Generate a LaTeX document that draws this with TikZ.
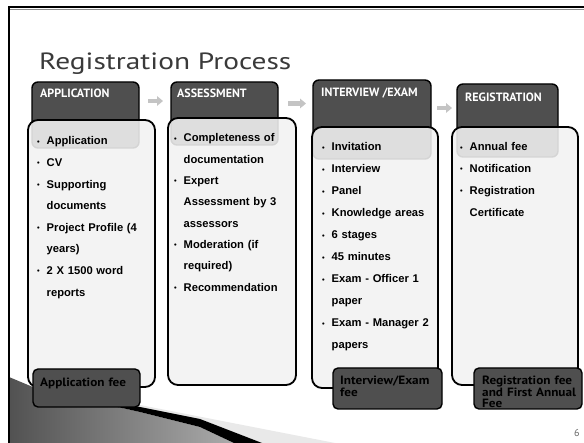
\documentclass[tikz,border=0pt]{standalone}
\usepackage{fontspec}
\setmainfont{Liberation Sans}
\newfontfamily\gillfont{PT Sans}
\newfontfamily\gillwide[FakeStretch=1.1]{PT Sans}
\newfontfamily\gilltitle[FakeStretch=1.25]{PT Sans}
\usetikzlibrary{arrows.meta}
\definecolor{hdrgray}{HTML}{4F4F4F}
\definecolor{bodygray}{HTML}{F2F2F2}
\definecolor{arrgray}{HTML}{C4C4C4}
\definecolor{titlegray}{HTML}{3A3A3A}
\definecolor{lightband}{HTML}{E9E9E9}
\newcommand{\bitem}[1]{\hangindent=9.5pt\hangafter=1\makebox[9.5pt][l]{\raisebox{0.8pt}{\fontsize{7.5}{7.5}\selectfont •}}#1\par}
\tikzset{
  hdrbox/.style={draw=black, line width=1.4pt, fill=hdrgray, rounded corners=6pt, anchor=north west, inner sep=0, outer sep=0},
  bodybox/.style={draw=black, line width=1.8pt, fill=bodygray, fill opacity=0.88, rounded corners=10pt, anchor=north west, inner sep=0, outer sep=0},
  feebox/.style={draw=black, line width=1.4pt, fill=hdrgray, rounded corners=5pt, anchor=north west, inner sep=0, outer sep=0},
  hdrtxt/.style={anchor=base west, inner sep=0, text=white, font=\gillfont\bfseries\fontsize{12}{13}\selectfont},
  bodytxt/.style={anchor=base west, inner sep=0, text width=130pt, align=left, font=\fontsize{11.2}{21.6}\selectfont\bfseries},
  feetxt/.style={anchor=base west, inner sep=0, text width=115pt, align=left, font=\gillwide\bfseries\fontsize{12}{11.5}\selectfont},
  flowarrow/.style={arrgray, line width=4.5pt, -{Triangle[width=9.5pt,length=6pt]}},
}
\begin{document}
\begin{tikzpicture}[x=1pt,y=-1pt]
\useasboundingbox (0,0) rectangle (584,443);
\fill[white] (0,0) rectangle (584,443);
% bottom-left swoosh
\shade[left color=black!68, right color=black!33] (9,377) -- (40,390) -- (100,403) -- (140,412) -- (200,427) -- (234,443) -- (9,443) -- cycle;
\fill[lightband] (120,402) -- (140,405) -- (335,443) -- (262,443) -- (200,419) -- (140,407) -- (120,404) -- cycle;
\fill[black] (100,401) -- (140,407) -- (200,419) -- (262,443) -- (234,443) -- (200,427) -- (140,412) -- (100,403) -- cycle;
% frame
\draw[black!45, line width=0.8pt] (10,9.6) -- (584,9.6);
\draw[black, line width=2pt] (9,443) -- (9,7) -- (584,7);
% title
\node[anchor=base west, inner sep=0, text=titlegray, font=\gilltitle\fontsize{23.5}{28}\selectfont] (title) at (39,70) {Registration Process};
% headers
\node[hdrbox, minimum width=107pt, minimum height=66pt] (h1) at (32,82) {};
\node[hdrbox, minimum width=107pt, minimum height=63pt] (h2) at (171,82) {};
\node[hdrbox, minimum width=118pt, minimum height=79pt] (h3) at (313,80) {};
\node[hdrbox, minimum width=101pt, minimum height=73pt] (h4) at (457,84) {};
\node[hdrtxt] (ht1) at (40,98) {APPLICATION};
\node[hdrtxt] (ht2) at (177,98) {ASSESSMENT};
\node[hdrtxt] (ht3) at (321,97) {INTERVIEW /EXAM};
\node[hdrtxt] (ht4) at (465,102) {REGISTRATION};
% arrows between headers
\draw[flowarrow] ([xshift=9pt,yshift=-19pt]h1.north east) -- ([xshift=-8pt,yshift=-19pt]h2.north west);
\draw[flowarrow] ([xshift=10pt,yshift=-21.5pt]h2.north east) -- ([xshift=-7pt,yshift=-23.5pt]h3.north west);
\draw[flowarrow] ([xshift=6pt,yshift=-28pt]h3.north east) -- ([xshift=-5pt,yshift=-24pt]h4.north west);
% bodies
\node[bodybox, minimum width=127pt, minimum height=267pt] (b1) at (28,120) {};
\node[bodybox, minimum width=128pt, minimum height=267pt] (b2) at (168,118) {};
\node[bodybox, minimum width=126pt, minimum height=261pt] (b3) at (312,127) {};
\node[bodybox, minimum width=126pt, minimum height=258pt] (b4) at (452,127) {};
\node[bodytxt] (t1) at (37,145) {\bitem{Application}\bitem{CV}\bitem{Supporting\newline documents}\bitem{Project Profile (4\newline years)}\bitem{2 X 1500 word\newline reports}};
\node[bodytxt, font=\fontsize{11.2}{21.3}\selectfont\bfseries] (t2) at (174,142) {\bitem{Completeness of\newline documentation}\bitem{Expert\newline Assessment by 3\newline assessors}\bitem{Moderation (if\newline required)}\bitem{Recommendation}};
\node[bodytxt, font=\fontsize{11.2}{22}\selectfont\bfseries] (t3) at (322,151) {\bitem{Invitation}\bitem{Interview}\bitem{Panel}\bitem{Knowledge areas}\bitem{6 stages}\bitem{45 minutes}\bitem{Exam - Officer 1\newline paper}\bitem{Exam - Manager 2\newline papers}};
\node[bodytxt, font=\fontsize{11.2}{21.7}\selectfont\bfseries] (t4) at (460,151) {\bitem{Annual fee}\bitem{Notification}\bitem{Registration\newline Certificate}};
% fees
\node[feebox, minimum width=107pt, minimum height=38pt] (f1) at (33,369) {};
\node[feebox, minimum width=109pt, minimum height=41pt] (f3) at (333,368) {};
\node[feebox, minimum width=108pt, minimum height=41pt] (f4) at (474,368) {};
\node[feetxt] (ft1) at (40,387) {Application fee};
\node[feetxt] (ft3) at (340,385) {Interview/Exam\\fee};
\node[feetxt] (ft4) at (482,385) {Registration fee\\and First Annual\\Fee};
% slide number
\node[anchor=base west, inner sep=0, text=black!60, font=\gillfont\fontsize{10}{11}\selectfont] (num) at (574,437) {6};
\end{tikzpicture}
\end{document}
